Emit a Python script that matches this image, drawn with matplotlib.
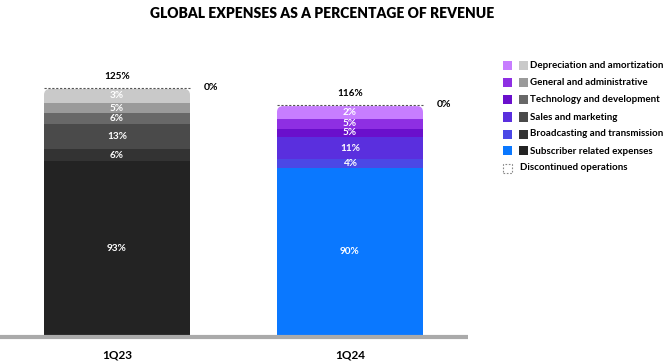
import matplotlib.pyplot as plt
from matplotlib.patches import FancyBboxPatch, Rectangle

plt.rcParams['font.family'] = ['Lato', 'DejaVu Sans']

periods = ['1Q23', '1Q24']
categories = ['Subscriber related expenses', 'Broadcasting and transmission',
              'Sales and marketing', 'Technology and development',
              'General and administrative', 'Depreciation and amortization']
# labelled values
labels_1q23 = [93, 6, 13, 6, 5, 3]
labels_1q24 = [90, 4, 11, 5, 5, 2]
# segment heights as drawn in the picture (% of revenue)
heights_1q23 = [88.4, 5.9, 12.7, 5.6, 5.4, 7.0]
heights_1q24 = [84.9, 4.6, 11.0, 4.4, 5.1, 6.3]
totals = ['125%', '116%']
discontinued = ['0%', '0%']

grey_colors = ['#232323', '#333333', '#4a4a4a', '#686868', '#9a9a9a', '#c9c9c9']
color_colors = ['#0a78ff', '#4b48e6', '#5a2fde', '#6a0fcc', '#8e2fe3', '#c77dff']

W, H = 670, 363
fig = plt.figure(figsize=(W / 100, H / 100), dpi=100)
# axes in pixel space: bars start at y=335, axes width up to x=468
base_px = 335
ax = fig.add_axes([0, (H - base_px) / H, 468 / W, (base_px - 40) / H])
px_per_pct = 246 / 125
ax.set_ylim(0, (base_px - 40) / px_per_pct)
spacing = 233
ax.set_xlim(-117 / spacing, 1 + (468 - 350) / spacing)
ax.axis('off')

bar_w = 146 / spacing
rad = 6

for i, (hts, labs, cols) in enumerate([(heights_1q23, labels_1q23, grey_colors),
                                       (heights_1q24, labels_1q24, color_colors)]):
    x0 = i - bar_w / 2
    bottoms = []
    bottom = 0
    for h in hts:
        bottoms.append(bottom)
        bottom += h
    # top segment with rounded corners, lower segments drawn over its bottom
    b, h = bottoms[-1], hts[-1]
    box = FancyBboxPatch((x0, b - 8), bar_w, h + 8,
                         boxstyle=f'round,pad=0,rounding_size={rad / spacing}',
                         mutation_aspect=(1 / px_per_pct) / (1 / spacing),
                         fc=cols[-1], ec='none', zorder=1)
    ax.add_patch(box)
    for b, h, c in zip(bottoms[:-1], hts[:-1], cols[:-1]):
        ax.bar(i, h, bottom=b, width=bar_w, color=c, linewidth=0, zorder=2)
    for b, h, v in zip(bottoms, hts, labs):
        ax.text(i, b + h / 2, f'{v}%', ha='center', va='center', color='white',
                fontsize=7.2, fontweight='bold', zorder=3)
    # discontinued operations: dashed outline at top
    ax.plot([x0, x0 + bar_w], [bottom + 0.4, bottom + 0.4], ls=(0, (2, 1.5)),
            color='#555555', lw=0.8, zorder=3)
    ax.text(i, bottom + 6.2, totals[i], ha='center', va='center', fontsize=7.2,
            fontweight='bold')
    ax.text(i + bar_w / 2 + 0.06, bottom + 0.8, discontinued[i], ha='left',
            va='center', fontsize=7.5, fontweight='bold')

ax.plot(ax.get_xlim(), [-1.0, -1.0], color='#aaaaaa', lw=3, clip_on=False,
        solid_capstyle='butt')
for i, p in enumerate(periods):
    ax.text(i, -10, p, ha='center', va='center', fontsize=8.5, fontweight='bold')

fig.text(322 / W, 1 - 13 / H, 'GLOBAL EXPENSES AS A PERCENTAGE OF REVENUE',
         ha='center', va='center', fontsize=10, fontweight='heavy')

# legend
row_y = [65.5, 82.5, 99.5, 117, 134, 151]
for y, c, g, name in zip(row_y, color_colors[::-1], grey_colors[::-1], categories[::-1]):
    fig.patches.append(Rectangle((503 / W, 1 - (y + 4.5) / H), 9 / W, 9 / H,
                                 transform=fig.transFigure, fc=c, ec='none'))
    fig.patches.append(Rectangle((519 / W, 1 - (y + 4.5) / H), 9 / W, 9 / H,
                                 transform=fig.transFigure, fc=g, ec='none'))
    fig.text(529.5 / W, 1 - y / H, name, ha='left', va='center', fontsize=7,
             fontweight='bold')
fig.patches.append(Rectangle((503 / W, 1 - (168 + 4.5) / H), 9 / W, 9 / H,
                             transform=fig.transFigure, fc='none', ec='#888888',
                             ls=(0, (1.5, 1.5)), lw=0.8))
fig.text(520 / W, 1 - 168 / H, 'Discontinued operations', ha='left', va='center',
         fontsize=7, fontweight='bold')

fig.savefig('out.png', dpi=100, facecolor='white')
